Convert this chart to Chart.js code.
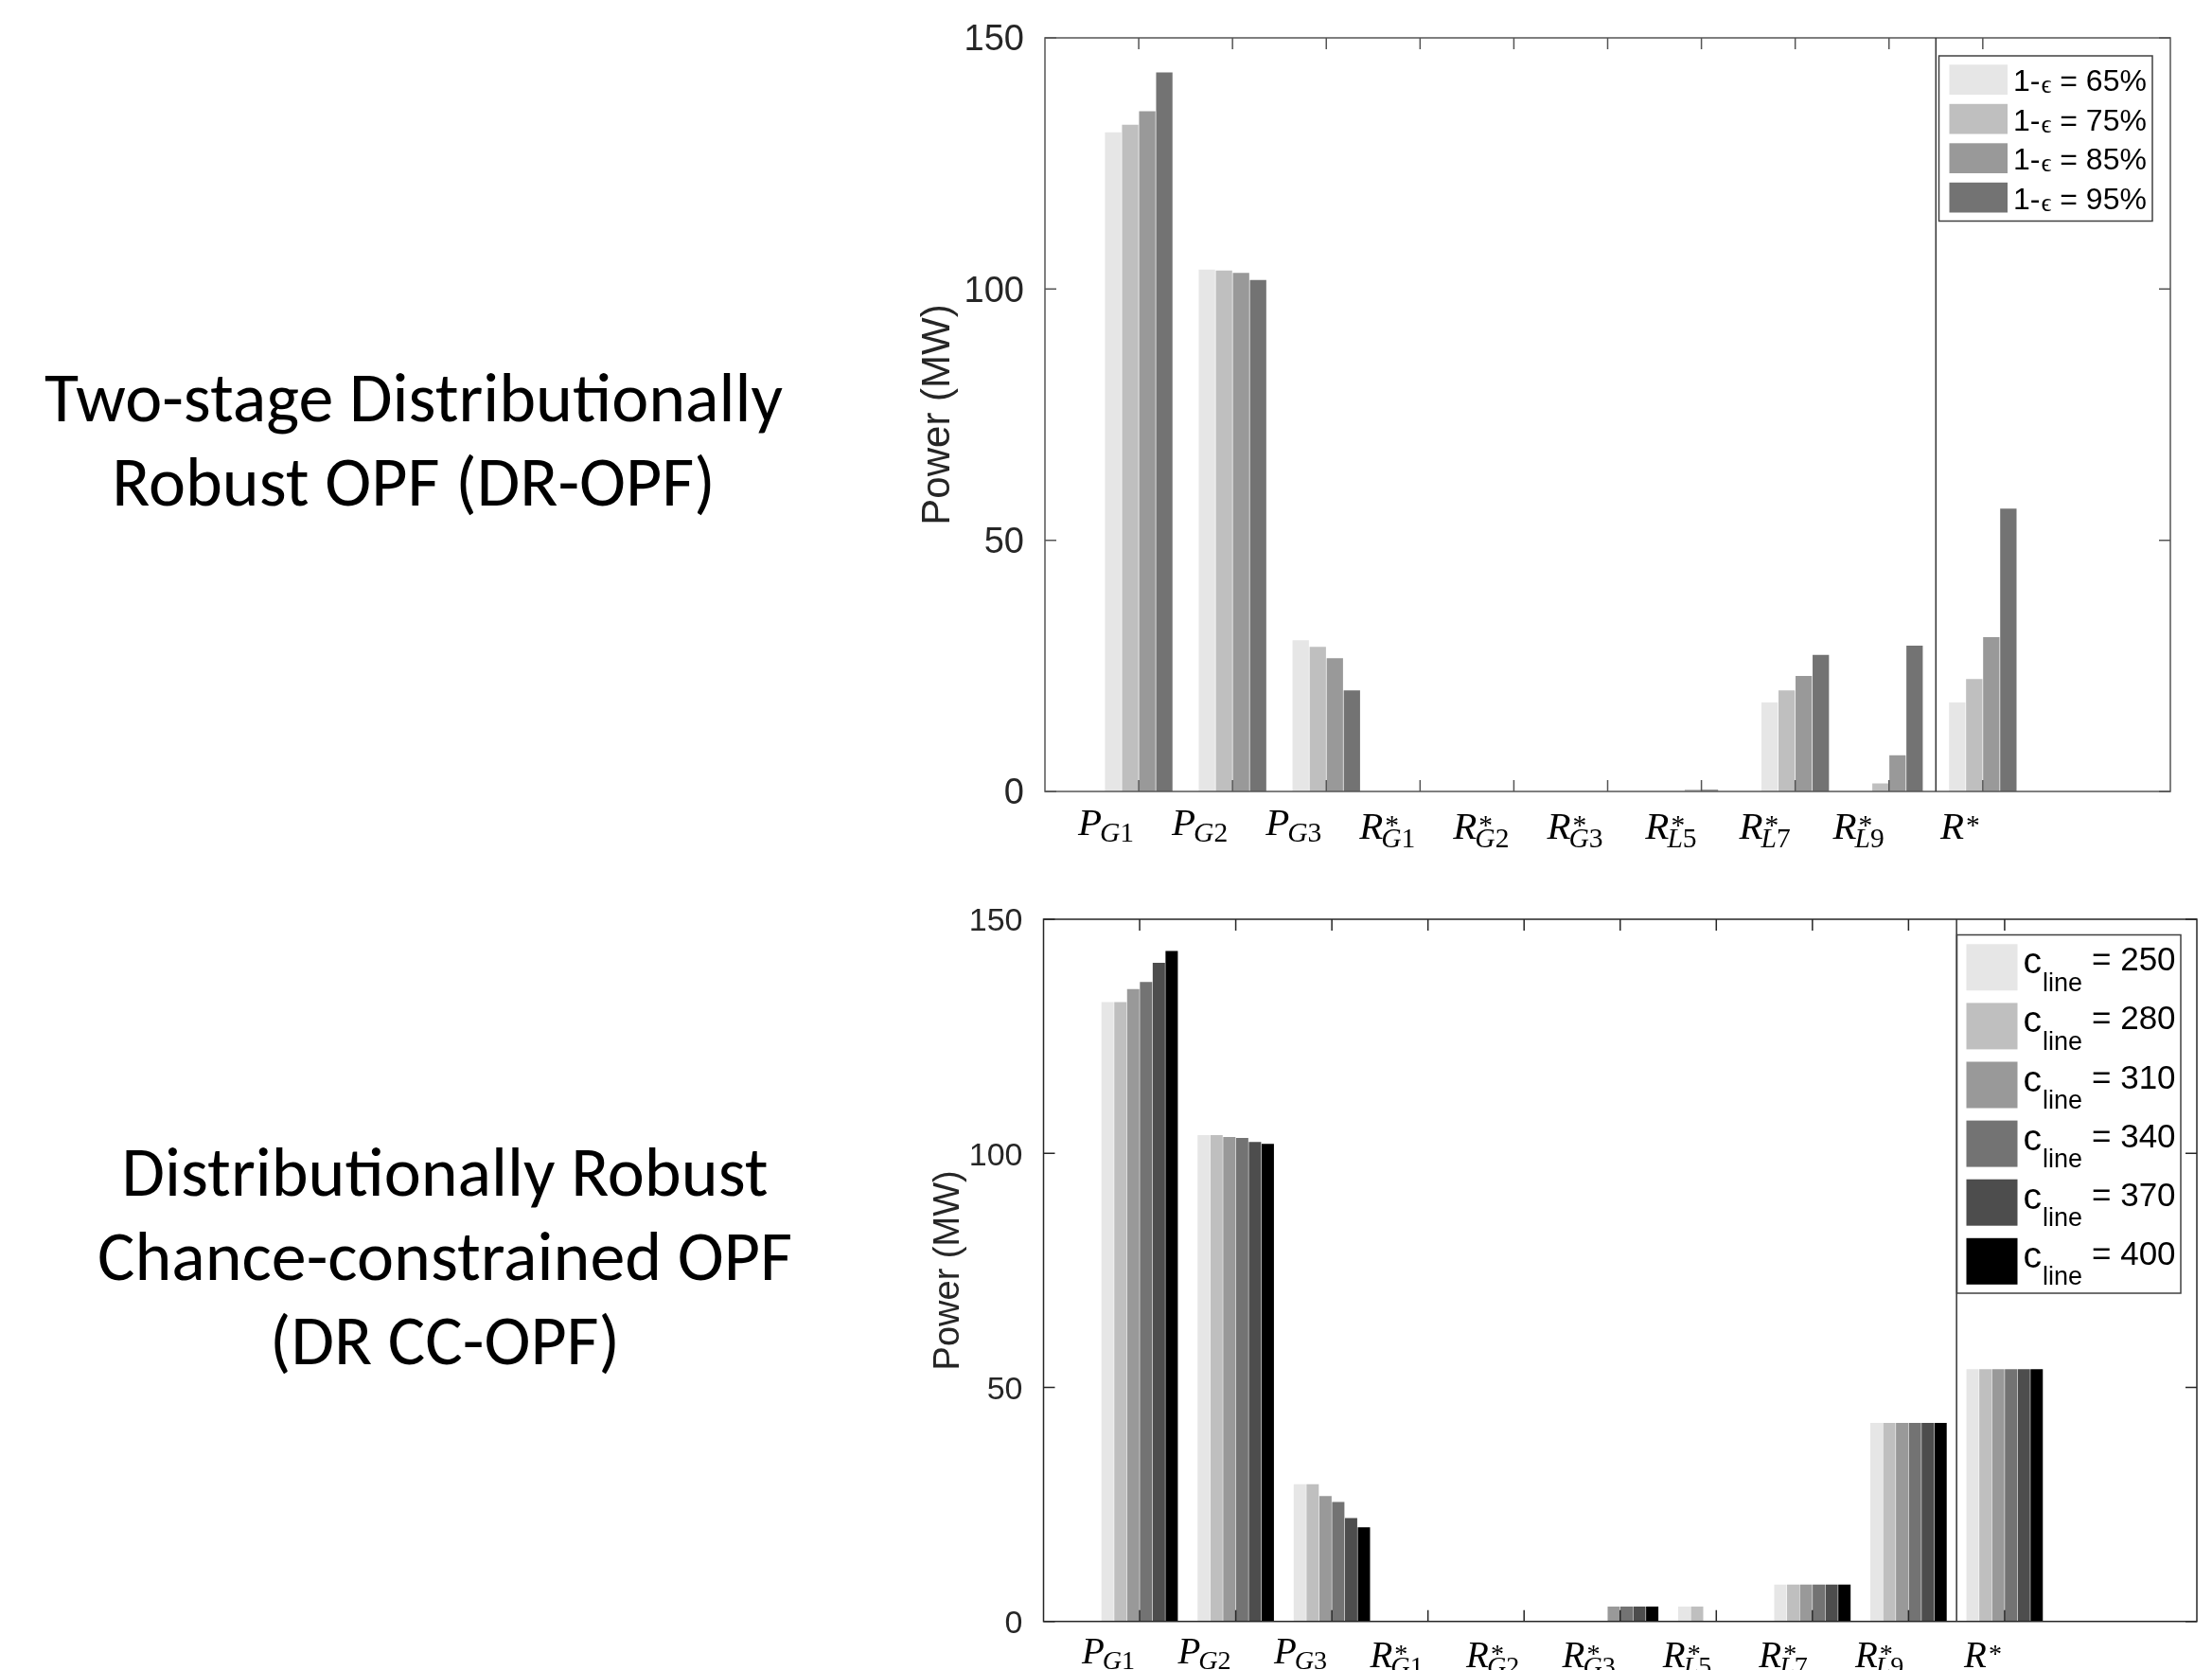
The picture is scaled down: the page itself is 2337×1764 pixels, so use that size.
<!DOCTYPE html>
<html>
<head>
<meta charset="utf-8">
<script src="https://cdn.jsdelivr.net/npm/chart.js@4.4.0/dist/chart.umd.min.js"></script>
<style>
  html, body { margin: 0; padding: 0; background: #fff; }
  body { width: 2337px; height: 1764px; position: relative; overflow: hidden; }
  .side {
    position: absolute; width: 1000px; text-align: center; color: #000;
    font-family: Carlito, Lato, "Open Sans", sans-serif; font-size: 74px; line-height: 89px;
  }
  canvas { position: absolute; left: 0; }
</style>
</head>
<body>
<div class="side" style="left:-63px; top:376px;">Two-stage Distributionally<br>Robust OPF (DR-OPF)</div>
<div class="side" style="left:-30px; top:1194px;">Distributionally Robust<br>Chance-constrained OPF<br>(DR CC-OPF)</div>
<canvas id="top-chart" width="2337" height="900" style="top:0"></canvas>
<canvas id="bottom-chart" width="2337" height="864" style="top:900px"></canvas>
<script>
// categories on the x axis (P = generation, R* = reserve)
const categories = ['P_G1', 'P_G2', 'P_G3', 'R*_G1', 'R*_G2', 'R*_G3', 'R*_L5', 'R*_L7', 'R*_L9', 'R*'];
const yTicks = [0, 50, 100, 150];

// top: two-stage DR-OPF, confidence level 1-eps
const confLevels = [65, 75, 85, 95];
const dr65 = [131.2, 103.9, 30.1, 0, 0, 0, 0, 17.7, 0, 17.7];
const dr75 = [132.7, 103.7, 28.8, 0, 0, 0, 0.4, 20.1, 1.6, 22.4];
const dr85 = [135.4, 103.2, 26.5, 0, 0, 0, 0.4, 23.0, 7.2, 30.7];
const dr95 = [143.1, 101.8, 20.1, 0, 0, 0, 0, 27.2, 29.0, 56.3];

// bottom: DR CC-OPF, line cost c_line
const cLine = [250, 280, 310, 340, 370, 400];
const cc250 = [132.3, 103.9, 29.3, 0, 0, 0, 3.2, 7.9, 42.4, 53.9];
const cc280 = [132.3, 103.9, 29.3, 0, 0, 0, 3.2, 7.9, 42.4, 53.9];
const cc310 = [135.1, 103.5, 26.8, 0, 0, 3.2, 0, 7.9, 42.4, 53.9];
const cc340 = [136.6, 103.3, 25.5, 0, 0, 3.2, 0, 7.9, 42.4, 53.9];
const cc370 = [140.7, 102.4, 22.1, 0, 0, 3.2, 0, 7.9, 42.4, 53.9];
const cc400 = [143.2, 102.0, 20.1, 0, 0, 3.2, 0, 7.9, 42.4, 53.9];

const grays4 = ['#e6e6e6', '#bfbfbf', '#999999', '#737373'];
const grays6 = ['#e6e6e6', '#bfbfbf', '#999999', '#737373', '#4d4d4d', '#000000'];

const SANS = '"Liberation Sans", Arial, sans-serif';
const SERIF = '"Liberation Serif", "DejaVu Serif", serif';

// x axis runs 0..12 like the matlab plot, categories sit at 1..10
const axisLabels = ['', ...categories, '', ''];
const pad = arr => [null, ...arr, null, null];

// draws P_{G1}, R^*_{L5} ... with right edge at xRight
function drawMathLabel(ctx, text, xRight, baseline, size) {
  const base = text[0];
  const sup = text.includes('*') ? '*' : '';
  const sub = text.includes('_') ? text.split('_')[1] : '';
  const small = size * 0.72;
  const italic = s => `italic ${s}px ${SERIF}`;
  const roman = s => `${s}px ${SERIF}`;

  ctx.font = italic(size);
  const wBase = ctx.measureText(base).width;
  const parts = sub.split('').map(ch => ({ ch, font: /[0-9]/.test(ch) ? roman(small) : italic(small) }));
  let wSub = 0;
  parts.forEach(p => { ctx.font = p.font; p.w = ctx.measureText(p.ch).width; wSub += p.w; });
  ctx.font = roman(small);
  const wSup = sup ? ctx.measureText(sup).width : 0;
  const total = wBase + Math.max(wSub, wSup + 2);

  let x = xRight - total;
  ctx.fillStyle = '#000';
  ctx.textAlign = 'left';
  ctx.textBaseline = 'alphabetic';
  ctx.font = italic(size);
  ctx.fillText(base, x, baseline);
  x += wBase;
  if (sup) {
    ctx.font = roman(small);
    ctx.fillText(sup, x + 2, baseline - size * 0.12);
  }
  let sx = x - 2;
  parts.forEach(p => {
    ctx.font = p.font;
    ctx.fillText(p.ch, sx, baseline + size * (sup ? 0.22 : 0.17));
    sx += p.w;
  });
}

function matlabFrame(cfg) {
  return {
    id: 'matlabFrame',
    afterDatasetsDraw(chart) {
      const ctx = chart.ctx;
      const a = chart.chartArea;
      const xs = chart.scales.x, ys = chart.scales.y;
      ctx.save();

      // inward tick marks on all four sides + box
      ctx.strokeStyle = cfg.boxColor;
      ctx.lineWidth = 1.5;
      ctx.beginPath();
      categories.forEach((c, i) => {
        const x = xs.getPixelForValue(i + 1);
        ctx.moveTo(x, a.bottom); ctx.lineTo(x, a.bottom - 12);
        ctx.moveTo(x, a.top); ctx.lineTo(x, a.top + 12);
      });
      yTicks.forEach(v => {
        const y = ys.getPixelForValue(v);
        ctx.moveTo(a.left, y); ctx.lineTo(a.left + 12, y);
        ctx.moveTo(a.right, y); ctx.lineTo(a.right - 12, y);
      });
      ctx.stroke();
      ctx.strokeRect(a.left, a.top, a.right - a.left, a.bottom - a.top);

      // separator between R*_L9 and R*
      const sx = (xs.getPixelForValue(9) + xs.getPixelForValue(10)) / 2;
      ctx.strokeStyle = '#333';
      ctx.beginPath();
      ctx.moveTo(sx, a.top); ctx.lineTo(sx, a.bottom);
      ctx.stroke();

      // x labels
      categories.forEach((c, i) => {
        const x = xs.getPixelForValue(i + 1);
        const isR = c[0] === 'R';
        drawMathLabel(ctx, c, x - 3, a.bottom + cfg.labelOffset + (isR ? 4 : 0), cfg.labelSize);
      });

      // y title
      ctx.translate(cfg.titleX, (a.top + a.bottom) / 2);
      ctx.rotate(-Math.PI / 2);
      ctx.font = `${cfg.titleSize}px ${SANS}`;
      ctx.fillStyle = '#262626';
      ctx.textAlign = 'center';
      ctx.textBaseline = 'middle';
      ctx.fillText('Power (MW)', 0, 0);
      ctx.restore();

      cfg.drawLegend(ctx);
    }
  };
}

function drawLegendBox(ctx, box) {
  ctx.fillStyle = '#fff';
  ctx.fillRect(box.x, box.y, box.w, box.h);
  ctx.strokeStyle = '#404040';
  ctx.lineWidth = 1.5;
  ctx.strokeRect(box.x, box.y, box.w, box.h);
}

function makeChart(id, cfg) {
  const canvas = document.getElementById(id);
  const W = canvas.width, H = canvas.height;
  const datasets = cfg.series.map((s, i) => ({
    label: String(cfg.names[i]),
    data: pad(s),
    backgroundColor: cfg.colors[i],
    borderWidth: 0,
    categoryPercentage: cfg.catPct,
    barPercentage: 0.96
  }));
  return new Chart(canvas, {
    type: 'bar',
    data: { labels: axisLabels, datasets },
    options: {
      responsive: false,
      animation: false,
      layout: { padding: { left: 0, top: cfg.area.top, right: W - cfg.area.right, bottom: 0 } },
      plugins: { legend: { display: false }, tooltip: { enabled: false } },
      scales: {
        x: {
          type: 'category',
          offset: false,
          grid: { display: false },
          border: { display: false },
          ticks: { display: false },
          afterFit: s => { s.height = H - cfg.area.bottom; }
        },
        y: {
          min: 0, max: 150,
          grid: { display: false },
          border: { display: false },
          ticks: {
            stepSize: 50,
            padding: 14,
            labelOffset: 3,
            color: '#262626',
            font: { family: SANS, size: cfg.tickSize }
          },
          afterFit: s => { s.width = cfg.area.left; }
        }
      }
    },
    plugins: [matlabFrame(cfg)]
  });
}

// top chart
makeChart('top-chart', {
  series: [dr65, dr75, dr85, dr95],
  names: confLevels,
  colors: grays4,
  catPct: 4 / 5.5,
  area: { left: 1104, top: 40, right: 2293, bottom: 836 },
  tickSize: 38, titleSize: 42, titleX: 991,
  labelSize: 41, labelOffset: 46,
  boxColor: '#555',
  drawLegend(ctx) {
    drawLegendBox(ctx, { x: 2048.5, y: 59, w: 225.5, h: 174.5 });
    confLevels.forEach((lvl, i) => {
      const top = 68.3 + 41.5 * i;
      ctx.fillStyle = grays4[i];
      ctx.fillRect(2059.5, top, 61.5, 31.7);
      const base = top + 28;
      let x = 2127;
      ctx.fillStyle = '#000';
      ctx.textAlign = 'left';
      ctx.textBaseline = 'alphabetic';
      ctx.font = `32px ${SANS}`;
      ctx.fillText('1-', x, base);
      x += ctx.measureText('1-').width + 1;
      ctx.font = `27px ${SERIF}`;
      ctx.fillText('ϵ', x, base + 2);
      x += ctx.measureText('ϵ').width;
      ctx.font = `32px ${SANS}`;
      ctx.fillText(' = ' + lvl + '%', x, base);
    });
  }
});

// bottom chart
makeChart('bottom-chart', {
  series: [cc250, cc280, cc310, cc340, cc370, cc400],
  names: cLine,
  colors: grays6,
  catPct: 0.8,
  area: { left: 1102.5, top: 71, right: 2321, bottom: 812.7 },
  tickSize: 34, titleSize: 38, titleX: 1003,
  labelSize: 39, labelOffset: 44,
  boxColor: '#262626',
  drawLegend(ctx) {
    drawLegendBox(ctx, { x: 2067.5, y: 87.5, w: 236.5, h: 378.5 });
    cLine.forEach((c, i) => {
      const top = 97.3 + 62.1 * i;
      ctx.fillStyle = grays6[i];
      ctx.fillRect(2077.5, top, 54, 49);
      ctx.fillStyle = '#000';
      ctx.textAlign = 'left';
      ctx.textBaseline = 'alphabetic';
      ctx.font = `39px ${SANS}`;
      ctx.fillText('c', 2137.5, top + 31);
      const cEnd = 2137.5 + ctx.measureText('c').width;
      ctx.font = `27px ${SANS}`;
      ctx.fillText('line', cEnd + 1, top + 49.5);
      ctx.font = `35px ${SANS}`;
      ctx.fillText('= ' + c, 2210, top + 28);
    });
  }
});
</script>
</body>
</html>
